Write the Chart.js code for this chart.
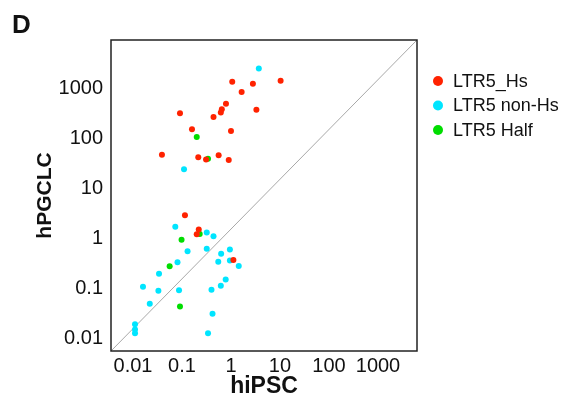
<!DOCTYPE html>
<html><head><meta charset="utf-8">
<script src="https://cdn.jsdelivr.net/npm/chart.js@4.4.1/dist/chart.umd.min.js"></script>
<style>html,body{margin:0;padding:0;background:#fff}</style>
</head><body>
<canvas id="c" width="566" height="406"></canvas>
<script>
// ---- data ----
const hsX = [1.06, 2.8, 10.3, 1.65, 0.79, 0.65, 0.62, 3.3, 0.091, 0.44, 0.16, 1.0, 0.039, 0.215, 0.31, 0.56, 0.9, 0.115, 0.22, 0.2, 1.12];
const hsY = [1350, 1230, 1420, 845, 490, 380, 330, 373, 316, 268, 151, 140, 47, 42, 37.5, 46, 37, 2.9, 1.5, 1.2, 0.37];
const nonHsX = [3.7, 0.11, 0.073, 0.32, 0.44, 0.32, 0.13, 0.95, 0.63, 0.55, 0.95, 1.44, 0.081, 0.034, 0.016, 0.033, 0.087, 0.78, 0.62, 0.4, 0.022, 0.42, 0.011, 0.011, 0.011, 0.34];
const nonHsY = [2500, 24, 1.7, 1.3, 1.1, 0.62, 0.55, 0.6, 0.49, 0.34, 0.36, 0.28, 0.33, 0.195, 0.107, 0.089, 0.091, 0.15, 0.112, 0.094, 0.049, 0.031, 0.019, 0.015, 0.0126, 0.0126];
const halfX = [0.2, 0.34, 0.23, 0.098, 0.056, 0.091];
const halfY = [106, 39, 1.22, 0.93, 0.275, 0.043];
const seriesLabels = ['LTR5_Hs', 'LTR5 non-Hs', 'LTR5 Half'];
const tickValues = [0.01, 0.1, 1, 10, 100, 1000];
const tickLabels = ['0.01', '0.1', '1', '10', '100', '1000'];
const xRange = [0.00356, 6250];
const yRange = [0.00557, 9250];
const diagX = [xRange[0], xRange[1]];
const diagY = [yRange[0], yRange[1]];

const pts = (xs, ys) => xs.map((x, i) => ({x, y: ys[i]}));
const tickFont = {family: "'Liberation Sans', Arial, sans-serif", size: 20};

const framePlugin = {
  id: 'frame',
  afterDatasetsDraw(chart) {
    const {ctx, chartArea: a} = chart;
    ctx.save();
    ctx.strokeStyle = '#222';
    ctx.lineWidth = 1.5;
    ctx.strokeRect(a.left, a.top, a.right - a.left, a.bottom - a.top);
    ctx.restore();
  }
};
const legendPlugin = {
  id: 'customLegend',
  afterDraw(chart) {
    const ctx = chart.ctx;
    ctx.save();
    ctx.font = "18px 'Liberation Sans', Arial, sans-serif";
    ctx.textBaseline = 'middle';
    ctx.textAlign = 'left';
    let k = 0;
    chart.data.datasets.forEach(ds => {
      if (!ds.inLegend) return;
      const y = 81 + k * 24.5;
      ctx.fillStyle = ds.backgroundColor;
      ctx.beginPath();
      ctx.arc(438, y, 5, 0, Math.PI * 2);
      ctx.fill();
      ctx.fillStyle = '#111';
      ctx.fillText(ds.label, 453, y + 1);
      k++;
    });
    ctx.font = "bold 26px 'Liberation Sans', Arial, sans-serif";
    ctx.textBaseline = 'alphabetic';
    ctx.fillStyle = '#111';
    ctx.fillText('D', 12, 33);
    ctx.restore();
  }
};

new Chart(document.getElementById('c'), {
  type: 'scatter',
  data: {
    datasets: [
      {label: seriesLabels[0], data: pts(hsX, hsY), backgroundColor: '#ff2200', borderWidth: 0, pointRadius: 3, inLegend: true},
      {label: seriesLabels[1], data: pts(nonHsX, nonHsY), backgroundColor: '#00e5ff', borderWidth: 0, pointRadius: 3, inLegend: true},
      {label: seriesLabels[2], data: pts(halfX, halfY), backgroundColor: '#00dd00', borderWidth: 0, pointRadius: 3, inLegend: true},
      {label: 'diag', data: pts(diagX, diagY), showLine: true, borderColor: '#a8a8a8', borderWidth: 1, pointRadius: 0, inLegend: false}
    ]
  },
  options: {
    responsive: false,
    animation: false,
    events: [],
    layout: {padding: {left: 0, top: 40, right: 149, bottom: 0}},
    plugins: {legend: {display: false}, tooltip: {enabled: false}},
    scales: {
      x: {
        type: 'logarithmic', min: xRange[0], max: xRange[1],
        grid: {display: false, drawTicks: false},
        border: {display: false},
        afterBuildTicks(s) { s.ticks = tickValues.map(v => ({value: v})); },
        afterFit(s) { s.height = 55; },
        ticks: {autoSkip: false, maxRotation: 0, padding: 3, color: '#111', font: tickFont,
          callback: (v) => tickLabels[tickValues.indexOf(v)]},
        title: {display: true, text: 'hiPSC', color: '#111',
          font: {family: "'Liberation Sans', Arial, sans-serif", size: 23, weight: 'bold'},
          padding: {top: 0, bottom: 6}}
      },
      y: {
        type: 'logarithmic', min: yRange[0], max: yRange[1],
        grid: {display: false, drawTicks: false},
        border: {display: false},
        afterBuildTicks(s) { s.ticks = tickValues.map(v => ({value: v})); },
        afterFit(s) { s.width = 111; },
        ticks: {autoSkip: false, padding: 8, color: '#111', font: tickFont,
          callback: (v) => tickLabels[tickValues.indexOf(v)]},
        title: {display: true, text: 'hPGCLC', color: '#111',
          font: {family: "'Liberation Sans', Arial, sans-serif", size: 21, weight: 'bold'},
          padding: {top: 33, bottom: 0}}
      }
    }
  },
  plugins: [framePlugin, legendPlugin]
});
</script>
</body></html>
